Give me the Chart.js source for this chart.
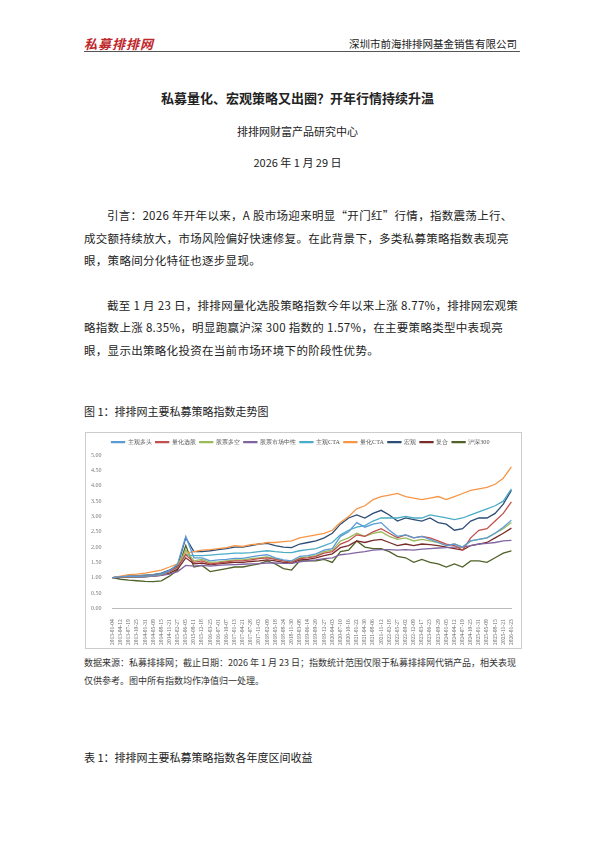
<!DOCTYPE html>
<html><head><meta charset="utf-8">
<script src="https://cdn.jsdelivr.net/npm/chart.js@4.4.1/dist/chart.umd.min.js"></script>
<style>
body{margin:0;width:595px;height:842px;background:#fff;font-family:"Noto Sans CJK SC",sans-serif;color:#222;position:relative;overflow:hidden}
.abs{position:absolute}
p{margin:0}
</style></head><body>
<div class="abs" style="left:84px;top:34px;color:#c0272d;font-weight:bold;font-size:13px;font-style:italic;letter-spacing:1px">私募排排网</div>
<div class="abs" style="right:78px;top:36px;font-size:10.5px">深圳市前海排排网基金销售有限公司</div>
<div class="abs" style="left:84px;top:51px;width:436px;border-top:1px solid #555"></div>
<div class="abs" style="left:0;width:595px;top:88px;text-align:center;font-weight:bold;font-size:13px">私募量化、宏观策略又出圈？开年行情持续升温</div>
<div class="abs" style="left:0;width:595px;top:123px;text-align:center;font-size:11px">排排网财富产品研究中心</div>
<div class="abs" style="left:0;width:595px;top:154px;text-align:center;font-size:11px">2026 年 1 月 29 日</div>
<div class="abs" style="left:84px;width:436px;top:204px;font-size:11.5px;line-height:22.5px;letter-spacing:0.3px">
<p style="text-indent:23px">引言：2026 年开年以来，A 股市场迎来明显“开门红”行情，指数震荡上行、成交额持续放大，市场风险偏好快速修复。在此背景下，多类私募策略指数表现亮眼，策略间分化特征也逐步显现。</p>
<p style="text-indent:23px;margin-top:22px">截至 1 月 23 日，排排网量化选股策略指数今年以来上涨 8.77%，排排网宏观策略指数上涨 8.35%，明显跑赢沪深 300 指数的 1.57%，在主要策略类型中表现亮眼，显示出策略化投资在当前市场环境下的阶段性优势。</p>
</div>
<div class="abs" style="left:84px;top:403px;font-size:11px">图 1：排排网主要私募策略指数走势图</div>
<div class="abs" style="left:85px;top:432px;width:437px;height:217px;border:1px solid #ccc;box-sizing:border-box">
<canvas id="c" width="435" height="215"></canvas></div>
<div class="abs" style="left:84px;width:436px;top:654px;font-size:9px;line-height:18px;color:#333">数据来源：私募排排网；截止日期：2026 年 1 月 23 日；指数统计范围仅限于私募排排网代销产品，相关表现仅供参考。图中所有指数均作净值归一处理。</div>
<div class="abs" style="left:84px;top:749px;font-size:11px">表 1：排排网主要私募策略指数各年度区间收益</div>
<script>
const dates=["2013-01-04","2013-04-12","2013-07-19","2013-10-25","2014-01-31","2014-05-09","2014-08-15","2014-11-21","2015-02-27","2015-06-05","2015-09-11","2015-12-18","2016-03-25","2016-07-01","2016-10-07","2017-01-13","2017-04-21","2017-07-28","2017-11-03","2018-02-09","2018-05-18","2018-08-24","2018-11-30","2019-03-08","2019-06-14","2019-09-20","2019-12-27","2020-04-03","2020-07-10","2020-10-16","2021-01-22","2021-04-30","2021-08-06","2021-11-12","2022-02-18","2022-05-27","2022-09-02","2022-12-09","2023-03-17","2023-06-23","2023-09-29","2024-01-05","2024-04-12","2024-07-19","2024-10-25","2025-01-31","2025-05-09","2025-08-15","2025-11-21","2026-01-23"];
const seriesNames=["主观多头","量化选股","股票多空","股票市场中性","主观CTA","量化CTA","宏观","复合","沪深300"];
const zgdt=[1.0,1.03,1.05,1.04,1.05,1.07,1.12,1.22,1.45,2.35,1.65,1.65,1.55,1.58,1.60,1.63,1.63,1.68,1.72,1.75,1.65,1.58,1.55,1.70,1.72,1.78,1.90,1.95,2.35,2.50,2.80,2.65,2.75,2.80,2.55,2.35,2.40,2.30,2.35,2.25,2.15,2.05,2.10,2.00,2.20,2.25,2.30,2.45,2.65,2.88];
const lhxg=[1.0,1.02,1.04,1.05,1.06,1.08,1.12,1.20,1.35,1.75,1.50,1.55,1.45,1.48,1.52,1.55,1.55,1.58,1.62,1.65,1.60,1.55,1.50,1.62,1.65,1.70,1.80,1.85,2.10,2.20,2.40,2.35,2.50,2.60,2.45,2.30,2.40,2.30,2.35,2.30,2.20,2.10,2.05,1.90,2.30,2.55,2.60,2.85,3.10,3.48];
const gpdk=[1.0,1.02,1.04,1.04,1.05,1.07,1.10,1.20,1.35,1.90,1.55,1.60,1.50,1.52,1.55,1.58,1.58,1.62,1.65,1.68,1.62,1.55,1.52,1.65,1.68,1.72,1.85,1.90,2.20,2.30,2.45,2.35,2.45,2.50,2.35,2.25,2.30,2.20,2.25,2.20,2.15,2.05,2.10,2.00,2.20,2.25,2.30,2.45,2.60,2.80];
const zxing=[1.0,1.01,1.02,1.03,1.04,1.05,1.08,1.12,1.20,1.40,1.38,1.40,1.38,1.40,1.42,1.43,1.44,1.45,1.46,1.48,1.48,1.47,1.47,1.52,1.55,1.58,1.62,1.65,1.75,1.78,1.82,1.85,1.90,1.92,1.92,1.90,1.92,1.90,1.93,1.95,1.97,1.98,2.00,2.00,2.05,2.10,2.12,2.15,2.20,2.22];
const zgcta=[1.0,1.02,1.05,1.07,1.08,1.10,1.13,1.22,1.35,1.75,1.72,1.72,1.74,1.76,1.78,1.80,1.80,1.82,1.85,1.88,1.85,1.83,1.82,1.88,1.92,1.95,2.05,2.15,2.40,2.55,2.65,2.70,2.85,2.95,2.95,2.95,3.00,2.95,2.95,3.05,3.00,2.95,2.90,2.95,3.05,3.15,3.25,3.35,3.50,3.90];
const lhcta=[1.0,1.05,1.10,1.12,1.15,1.20,1.25,1.35,1.45,1.80,1.85,1.90,1.92,1.95,1.98,2.05,2.02,2.08,2.10,2.15,2.15,2.18,2.20,2.30,2.35,2.40,2.45,2.55,2.80,3.00,3.25,3.35,3.55,3.65,3.70,3.75,3.65,3.60,3.55,3.60,3.65,3.55,3.65,3.75,3.85,3.90,3.95,4.05,4.25,4.62];
const hg=[1.0,1.03,1.05,1.06,1.08,1.10,1.15,1.25,1.40,2.30,1.85,1.85,1.88,1.92,1.95,2.00,2.00,2.05,2.10,2.12,2.05,2.00,1.98,2.10,2.15,2.20,2.30,2.45,2.75,2.95,3.05,2.95,3.10,3.20,3.05,2.85,2.95,2.90,2.85,2.95,2.80,2.75,2.55,2.60,2.85,2.95,2.95,3.10,3.40,3.85];
const fh=[1.0,1.01,1.02,1.02,1.03,1.05,1.08,1.15,1.28,1.65,1.45,1.48,1.42,1.45,1.48,1.50,1.50,1.53,1.55,1.58,1.55,1.50,1.48,1.58,1.60,1.65,1.72,1.78,1.98,2.05,2.20,2.15,2.22,2.25,2.15,2.05,2.10,2.05,2.10,2.08,2.05,2.00,1.95,1.90,2.05,2.10,2.15,2.30,2.45,2.62];
const hs300=[1.0,0.95,0.92,0.90,0.88,0.87,0.90,1.05,1.25,2.05,1.35,1.40,1.20,1.25,1.30,1.35,1.35,1.40,1.45,1.55,1.45,1.30,1.25,1.55,1.55,1.55,1.60,1.50,1.85,1.90,2.20,2.00,1.95,1.95,1.85,1.70,1.65,1.50,1.60,1.50,1.45,1.35,1.45,1.35,1.55,1.55,1.50,1.65,1.80,1.88];
const yTicks=[0,0.5,1,1.5,2,2.5,3,3.5,4,4.5,5];
const colors=["#5b9bd5","#c0504d","#9bbb59","#8064a2","#4bacc6","#f79646","#2c4d75","#772c2a","#4f6228"];
const all=[zgdt,lhxg,gpdk,zxing,zgcta,lhcta,hg,fh,hs300];
new Chart(document.getElementById('c'),{type:'line',
data:{labels:dates,datasets:all.map((d,i)=>({label:seriesNames[i],data:d,borderColor:colors[i],backgroundColor:colors[i],borderWidth:1.3,pointRadius:0,tension:0}))},
options:{responsive:false,animation:false,layout:{padding:{left:2,right:8,top:2}},
plugins:{legend:{labels:{boxWidth:13,boxHeight:1,font:{size:6.2,family:"Liberation Serif"},color:'#555',padding:4}},tooltip:{enabled:false}},
scales:{y:{min:0,max:5,afterBuildTicks:a=>{a.ticks=yTicks.map(v=>({value:v}))},grid:{display:false},border:{display:false},ticks:{font:{size:6,family:"Liberation Serif"},color:'#777',callback:v=>v.toFixed(2)}},
x:{grid:{display:false},border:{color:'#bbb'},ticks:{autoSkip:false,maxRotation:90,minRotation:90,font:{size:5.5,family:"Liberation Serif"},color:'#666'}}}}});
</script>
</body></html>
